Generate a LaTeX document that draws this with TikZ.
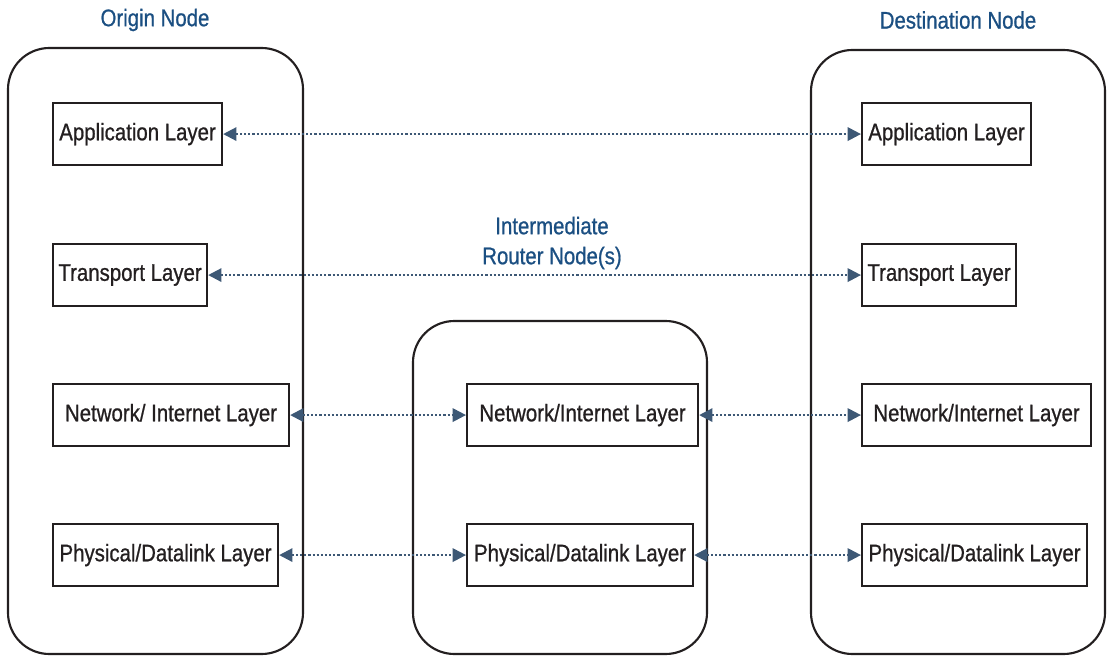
\documentclass[tikz,border=0pt]{standalone}
\usepackage{fontspec}
\setmainfont[FakeStretch=0.85,FakeBold=0.8]{Liberation Sans}
\usetikzlibrary{arrows.meta}
\definecolor{inkc}{HTML}{231F20}
\definecolor{titleblue}{HTML}{1B4F82}
\definecolor{arrowc}{HTML}{3D5875}
\begin{document}
\begin{tikzpicture}[x=0.75pt,y=-0.75pt,
  container/.style={draw=inkc,line width=1.6pt,rounded corners=31pt},
  layerbox/.style={draw=inkc,line width=1.6pt,anchor=north west,inner sep=0pt,
     minimum height=46.5pt,text=inkc,font=\fontsize{18}{20}\selectfont},
  title/.style={text=titleblue,font=\fontsize{18}{22.5}\selectfont,align=center},
  conn/.style={draw=arrowc,line width=1.7pt,dash pattern=on 1.6pt off 1.5pt,
     {Triangle[length=10pt,width=10pt]}-{Triangle[length=10pt,width=10pt]}}
]
\useasboundingbox (0,0) rectangle (1110,656);
% containers
\draw[container] (8,48) rectangle (303,654);
\draw[container] (811,50) rectangle (1105,654);
\draw[container] (413,321) rectangle (707,654);
% titles
\node[title] (torig) at (155,20) {Origin Node};
\node[title] (tdest) at (958,20) {Destination Node};
\node[title] (tmid) at (552,243) {Intermediate\\Router Node(s)};
% origin layers
\node[layerbox,minimum width=169*0.75pt] (oapp) at (52,102) {Application Layer};
\node[layerbox,minimum width=154*0.75pt] (otra) at (52,243) {Transport Layer};
\node[layerbox,minimum width=236*0.75pt] (onet) at (52,383) {Network/ Internet Layer};
\node[layerbox,minimum width=225*0.75pt] (ophy) at (52,523) {Physical/Datalink Layer};
% destination layers
\node[layerbox,minimum width=169*0.75pt] (dapp) at (861,102) {Application Layer};
\node[layerbox,minimum width=154*0.75pt] (dtra) at (861,243) {Transport Layer};
\node[layerbox,minimum width=229*0.75pt] (dnet) at (861,383) {Network/Internet Layer};
\node[layerbox,minimum width=225*0.75pt] (dphy) at (861,523) {Physical/Datalink Layer};
% intermediate layers
\node[layerbox,minimum width=231*0.75pt] (mnet) at (466,383) {Network/Internet Layer};
\node[layerbox,minimum width=226*0.75pt] (mphy) at (466,523) {Physical/Datalink Layer};
% connectors
\draw[conn] (oapp.east) -- (dapp.west);
\draw[conn] (otra.east) -- (dtra.west);
\draw[conn] (onet.east) -- (mnet.west);
\draw[conn] (mnet.east) -- (dnet.west);
\draw[conn] (ophy.east) -- (mphy.west);
\draw[conn] (mphy.east) -- (dphy.west);
\end{tikzpicture}
\end{document}
